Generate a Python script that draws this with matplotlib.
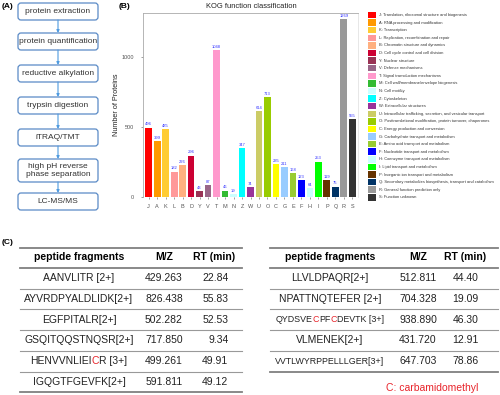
import re
import matplotlib
matplotlib.use("Agg")
import matplotlib.pyplot as plt
from matplotlib.patches import FancyBboxPatch, Rectangle
from matplotlib.offsetbox import TextArea, HPacker, AnnotationBbox

plt.rcParams['font.family'] = ['Liberation Sans', 'DejaVu Sans']

# (A) workflow
steps = ["protein extraction", "protein quantification", "reductive alkylation",
         "trypsin digestion", "iTRAQ/TMT", "high pH reverse\nphase separation", "LC-MS/MS"]

# (B) KOG classes
kog_codes = list("JAKLBDYVTMNZWUOCGEFHIPQRS")
kog_counts = [496, 399, 485, 182, 226, 296, 43, 87, 1048, 46, 19, 347, 74,
              614, 713, 235, 211, 168, 123, 64, 253, 119, 75, 1269, 555]
kog_names = [
    "Translation, ribosomal structure and biogenesis",
    "RNA processing and modification",
    "Transcription",
    "Replication, recombination and repair",
    "Chromatin structure and dynamics",
    "Cell cycle control and cell division",
    "Nuclear structure",
    "Defense mechanisms",
    "Signal transduction mechanisms",
    "Cell wall/membrane/envelope biogenesis",
    "Cell motility",
    "Cytoskeleton",
    "Extracellular structures",
    "Intracellular trafficking, secretion, and vesicular transport",
    "Posttranslational modification, protein turnover, chaperones",
    "Energy production and conversion",
    "Carbohydrate transport and metabolism",
    "Amino acid transport and metabolism",
    "Nucleotide transport and metabolism",
    "Coenzyme transport and metabolism",
    "Lipid transport and metabolism",
    "Inorganic ion transport and metabolism",
    "Secondary metabolites biosynthesis, transport and catabolism",
    "General function prediction only",
    "Function unknown",
]
kog_colors = ["#FF0000", "#FF9900", "#FFCC33", "#FF9999", "#FFB080", "#CC0033",
              "#993355", "#996688", "#FF99CC", "#33BB33", "#CCFFFF", "#00FFFF",
              "#993399", "#CCCC66", "#99CC00", "#FFFF00", "#99CCFF", "#99CC33",
              "#0000FF", "#CCFFFF", "#00FF00", "#663300", "#003366", "#999999",
              "#333333"]

# (C) peptide tables
left_peptides = ["AANVLITR [2+]", "AYVRDPYALDLIDK[2+]", "EGFPITALR[2+]",
                 "GSQITQQSTNQSR[2+]", "HENVVNLIEICR [3+]", "IGQGTFGEVFK[2+]"]
left_mz = [429.263, 826.438, 502.282, 717.850, 499.261, 591.811]
left_rt = [22.84, 55.83, 52.53, 9.34, 49.91, 49.12]
right_peptides = ["LLVLDPAQR[2+]", "NPATTNQTEFER [2+]", "QYDSVECPFCDEVTK [3+]",
                  "VLMENEK[2+]", "VVTLWYRPPELLLGER[3+]"]
right_mz = [512.811, 704.328, 938.890, 431.720, 647.703]
right_rt = [44.40, 19.09, 46.30, 12.91, 78.86]

fig = plt.figure(figsize=(5, 3.95), dpi=100)

# overlay in pixel coordinates
ov = fig.add_axes([0, 0, 1, 1])
ov.set_xlim(0, 500)
ov.set_ylim(395, 0)
ov.axis('off')

ov.text(2, 6, "(A)", fontsize=6, fontweight='bold', va='center')
ov.text(119, 7, "(B)", fontsize=6, fontweight='bold', va='center')
ov.text(2, 243, "(C)", fontsize=6, fontweight='bold', va='center')

# flowchart
box_top = [3, 33, 65, 97, 129, 159, 193]
box_h = [17, 17, 17, 17, 17, 23, 17]
bx, bw = 18, 80
for i, s in enumerate(steps):
    ov.add_patch(FancyBboxPatch((bx, box_top[i]), bw, box_h[i],
                                boxstyle="round,pad=0,rounding_size=3",
                                fc='white', ec='#5A8AC6', lw=0.9))
    ov.text(bx + bw / 2, box_top[i] + box_h[i] / 2, s, fontsize=6, ha='center',
            va='center', color='#333333', linespacing=1.0)
    if i < len(steps) - 1:
        ov.annotate('', xy=(bx + bw / 2, box_top[i + 1]),
                    xytext=(bx + bw / 2, box_top[i] + box_h[i]),
                    arrowprops=dict(arrowstyle='-|>', color='#4F9BE0', lw=0.8,
                                    mutation_scale=4, shrinkA=0, shrinkB=0))

# bar chart
ax = fig.add_axes([143 / 500, 1 - 197 / 395, 215 / 500, 184 / 395])
x = list(range(len(kog_codes)))
ax.bar(x, kog_counts, width=0.82, color=kog_colors)
for xi, v in zip(x, kog_counts):
    ax.text(xi, v + 8, str(v), fontsize=3.0, color='#3333FF', ha='center', va='bottom')
ax.set_xlim(-0.65, len(kog_codes) - 0.35)
ax.set_ylim(0, 1315)
ax.set_yticks([0, 500, 1000])
ax.set_xticks(x)
ax.set_xticklabels(kog_codes)
ax.tick_params(axis='both', labelsize=4, colors='#555555', length=1.5, width=0.4)
ax.tick_params(axis='y', pad=5)
ax.tick_params(axis='x', pad=3.5)
ax.set_ylabel("Number of Proteins", fontsize=5.2, color='#222222', labelpad=1)
for side in ['left', 'top']:
    ax.spines[side].set_color('#aaaaaa')
    ax.spines[side].set_linewidth(0.6)
ax.spines['right'].set_color('#dddddd')
ax.spines['right'].set_linewidth(0.5)
ax.spines['bottom'].set_visible(False)
ov.text(251, 6, "KOG function classification", fontsize=5.4, ha='center',
        va='center', color='#222222')

# legend
for i, (c, n, col) in enumerate(zip(kog_codes, kog_names, kog_colors)):
    y = 15 + i * 7.6
    ov.add_patch(Rectangle((368, y - 3.3), 7.5, 6.6, fc=col, ec='none'))
    ov.text(379, y, f"{c}: {n}", fontsize=2.9, va='center', color='#333333')


# tables
def seq_text(xc, yc, label, size):
    parts = [p for p in re.split('(C)', label) if p]
    boxes = [TextArea(p, textprops=dict(color='#E8242B' if p == 'C' else '#222222',
                                        fontsize=size)) for p in parts]
    pk = HPacker(children=boxes, align='baseline', pad=0, sep=0)
    ov.add_artist(AnnotationBbox(pk, (xc, yc), xycoords='data', frameon=False,
                                 box_alignment=(0.5, 0.5), pad=0))


def draw_table(x0, x1, cx, peptides, mz, rt):
    top, hline, pitch = 248, 268, 20.7
    ov.plot([x0, x1], [top, top], color='#808080', lw=1.3)
    ov.plot([x0, x1], [hline, hline], color='#808080', lw=1.3)
    ov.text(cx[0], 257, "peptide fragments", fontsize=7.5, fontweight='bold', ha='center', va='center')
    ov.text(cx[1], 257, "M/Z", fontsize=7.5, fontweight='bold', ha='center', va='center')
    ov.text(cx[2], 257, "RT (min)", fontsize=7.5, fontweight='bold', ha='center', va='center')
    for k, (p, m, r) in enumerate(zip(peptides, mz, rt)):
        yc = hline + pitch * (k + 0.5)
        seq_text(cx[0], yc, p, 6.4 if len(p) > 18 else 7.5)
        ov.text(cx[1], yc, f"{m:.3f}", fontsize=7.5, ha='center', va='center', color='#222222')
        ov.text(cx[3], yc, f"{r:.2f}", fontsize=7.5, ha='right', va='center', color='#222222')
        yl = hline + pitch * (k + 1)
        last = k == len(peptides) - 1
        ov.plot([x0, x1], [yl, yl], color='#808080' if last else '#999999',
                lw=1.3 if last else 0.8)


draw_table(20, 242, [79, 164, 214, 228.5], left_peptides, left_mz, left_rt)
draw_table(270, 498, [330, 418, 465, 478.5], right_peptides, right_mz, right_rt)
ov.text(432, 388, "C: carbamidomethyl", fontsize=7.5, color='#E8242B', ha='center', va='center')

fig.savefig("out.png", dpi=100)
